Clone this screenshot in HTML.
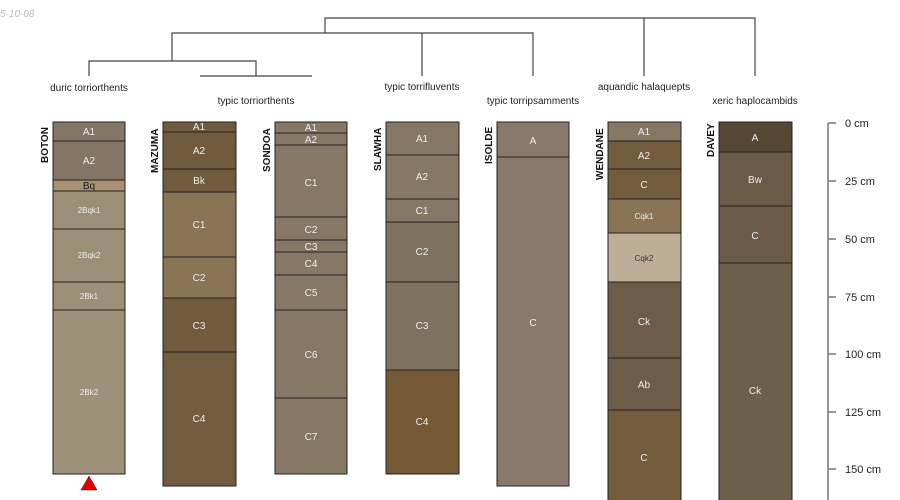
<!DOCTYPE html>
<html><head><meta charset="utf-8"><style>body{margin:0;background:#fff}svg{display:block}</style></head><body>
<svg width="900" height="500" xmlns="http://www.w3.org/2000/svg" font-family="Liberation Sans, sans-serif">
<text x="0" y="17" font-size="10" font-style="italic" fill="#bbb">5-10-08</text>
<g stroke="#444" stroke-width="1.2" fill="none">
<path d="M325 33V18H755V76M644 18V76"/>
<path d="M172 61V33H533V76M422 33V76"/>
<path d="M89 76V61H256V76M200 76H312"/>
</g>
<g font-size="10" fill="#222" text-anchor="middle">
<text x="89" y="91">duric torriorthents</text>
<text x="256" y="104">typic torriorthents</text>
<text x="422" y="90">typic torrifluvents</text>
<text x="533" y="104">typic torripsamments</text>
<text x="644" y="90">aquandic halaquepts</text>
<text x="755" y="104">xeric haplocambids</text>
</g>
<g font-size="10" font-weight="bold" fill="#111">
<text transform="translate(48,163) rotate(-90)">BOTON</text>
<text transform="translate(158,173) rotate(-90)">MAZUMA</text>
<text transform="translate(270,172) rotate(-90)">SONDOA</text>
<text transform="translate(381,171) rotate(-90)">SLAWHA</text>
<text transform="translate(492,164) rotate(-90)">ISOLDE</text>
<text transform="translate(603,180) rotate(-90)">WENDANE</text>
<text transform="translate(714,157) rotate(-90)">DAVEY</text>
</g>
<g id="profiles" stroke="#222" stroke-width="1" font-size="10" text-anchor="middle">
<!-- BOTON -->
<rect x="53" y="122" width="72" height="19" fill="#857565"/>
<rect x="53" y="141" width="72" height="39" fill="#857565"/>
<rect x="53" y="180" width="72" height="11" fill="#a89070"/>
<rect x="53" y="191" width="72" height="38" fill="#9c8f78"/>
<rect x="53" y="229" width="72" height="53" fill="#9c8f78"/>
<rect x="53" y="282" width="72" height="28" fill="#9c8f78"/>
<rect x="53" y="310" width="72" height="164" fill="#9e917a"/>
<!-- MAZUMA -->
<rect x="163" y="122" width="73" height="10" fill="#725a3e"/>
<rect x="163" y="132" width="73" height="37" fill="#725a3e"/>
<rect x="163" y="169" width="73" height="23" fill="#725a3e"/>
<rect x="163" y="192" width="73" height="65" fill="#8b7355"/>
<rect x="163" y="257" width="73" height="41" fill="#8b7355"/>
<rect x="163" y="298" width="73" height="54" fill="#725a3e"/>
<rect x="163" y="352" width="73" height="134" fill="#735b40"/>
<!-- SONDOA -->
<rect x="275" y="122" width="72" height="11" fill="#877866"/>
<rect x="275" y="133" width="72" height="12" fill="#877866"/>
<rect x="275" y="145" width="72" height="72" fill="#877866"/>
<rect x="275" y="217" width="72" height="23" fill="#877866"/>
<rect x="275" y="240" width="72" height="12" fill="#877866"/>
<rect x="275" y="252" width="72" height="23" fill="#877866"/>
<rect x="275" y="275" width="72" height="35" fill="#877866"/>
<rect x="275" y="310" width="72" height="88" fill="#877866"/>
<rect x="275" y="398" width="72" height="76" fill="#877866"/>
<!-- SLAWHA -->
<rect x="386" y="122" width="73" height="33" fill="#877866"/>
<rect x="386" y="155" width="73" height="44" fill="#877866"/>
<rect x="386" y="199" width="73" height="23" fill="#877866"/>
<rect x="386" y="222" width="73" height="60" fill="#7f725e"/>
<rect x="386" y="282" width="73" height="88" fill="#7f725e"/>
<rect x="386" y="370" width="73" height="104" fill="#735a35"/>
<!-- ISOLDE -->
<rect x="497" y="122" width="72" height="35" fill="#89786a"/>
<rect x="497" y="157" width="72" height="329" fill="#89786a"/>
<!-- WENDANE -->
<rect x="608" y="122" width="73" height="19" fill="#877866"/>
<rect x="608" y="141" width="73" height="28" fill="#735b3e"/>
<rect x="608" y="169" width="73" height="30" fill="#735b3e"/>
<rect x="608" y="199" width="73" height="34" fill="#8b7455"/>
<rect x="608" y="233" width="73" height="49" fill="#bfae97"/>
<rect x="608" y="282" width="73" height="76" fill="#6d5c4a"/>
<rect x="608" y="358" width="73" height="52" fill="#6d5c4a"/>
<rect x="608" y="410" width="73" height="95" fill="#735b3e"/>
<!-- DAVEY -->
<rect x="719" y="122" width="73" height="30" fill="#574836"/>
<rect x="719" y="152" width="73" height="54" fill="#6b5a48"/>
<rect x="719" y="206" width="73" height="57" fill="#6b5a48"/>
<rect x="719" y="263" width="73" height="242" fill="#6c604b"/>
</g>
<g font-size="10" fill="#eee" text-anchor="middle">
<text x="89" y="135">A1</text><text x="89" y="164">A2</text><text x="89" y="189" fill="#222">Bq</text>
<text x="89" y="213" font-size="8">2Bqk1</text><text x="89" y="258" font-size="8">2Bqk2</text><text x="89" y="299" font-size="8">2Bk1</text><text x="89" y="395" font-size="8">2Bk2</text>
<text x="199" y="130">A1</text><text x="199" y="154">A2</text><text x="199" y="184">Bk</text><text x="199" y="228">C1</text><text x="199" y="281">C2</text><text x="199" y="329">C3</text><text x="199" y="422">C4</text>
<text x="311" y="131">A1</text><text x="311" y="143">A2</text><text x="311" y="186">C1</text><text x="311" y="233">C2</text><text x="311" y="250">C3</text><text x="311" y="267">C4</text><text x="311" y="296">C5</text><text x="311" y="358">C6</text><text x="311" y="440">C7</text>
<text x="422" y="142">A1</text><text x="422" y="180">A2</text><text x="422" y="214">C1</text><text x="422" y="255">C2</text><text x="422" y="329">C3</text><text x="422" y="425">C4</text>
<text x="533" y="144">A</text><text x="533" y="326">C</text>
<text x="644" y="135">A1</text><text x="644" y="159">A2</text><text x="644" y="188">C</text><text x="644" y="219" font-size="8">Cqk1</text><text x="644" y="261" font-size="8" fill="#333">Cqk2</text><text x="644" y="325">Ck</text><text x="644" y="388">Ab</text><text x="644" y="461">C</text>
<text x="755" y="141">A</text><text x="755" y="183">Bw</text><text x="755" y="239">C</text><text x="755" y="394">Ck</text>
</g>
<polygon points="89,476 81,490 97,490" fill="#e00000" stroke="#600" stroke-width="0.5"/>
<g stroke="#777" stroke-width="1.5"><path d="M828 123V500"/><path d="M828 123h8M828 181h8M828 239h8M828 297h8M828 354h8M828 412h8M828 469h8"/></g>
<g font-size="11" fill="#222">
<text x="845" y="127">0 cm</text><text x="845" y="185">25 cm</text><text x="845" y="243">50 cm</text><text x="845" y="301">75 cm</text><text x="845" y="358">100 cm</text><text x="845" y="416">125 cm</text><text x="845" y="473">150 cm</text>
</g>
</svg>
</body></html>
